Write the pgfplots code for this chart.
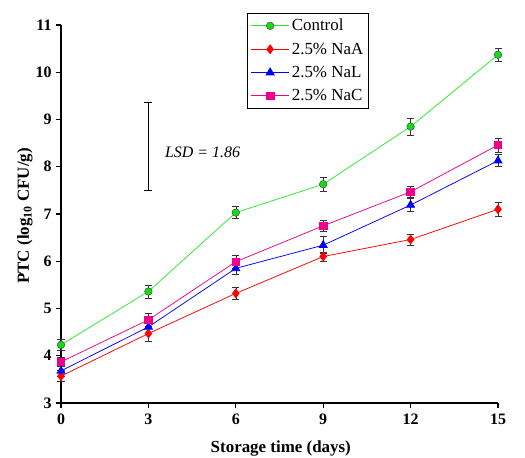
\documentclass[border=0pt]{standalone}
\usepackage{pgfplots}
\pgfplotsset{compat=1.18}
\usepackage{fontspec}
\setmainfont{Liberation Serif}
\definecolor{cgreen}{RGB}{40,235,40}
\definecolor{cgreenfill}{RGB}{20,220,20}
\begin{document}
\begin{tikzpicture}
\begin{axis}[
  scale only axis,
  width=437bp, height=378bp,
  xmin=0, xmax=15, ymin=3, ymax=11,
  xtick={0,3,6,9,12,15}, ytick={3,4,...,11},
  axis x line*=bottom, axis y line*=left,
  axis line style={line width=1.4pt},
  tick align=outside, major tick length=5bp,
  tick style={line width=1.2pt, black},
  /pgf/number format/assume math mode=true,
  ticklabel style={font=\bfseries\fontsize{16}{16}\selectfont},
  xticklabel style={yshift=-2bp},
  yticklabel style={xshift=-1bp},
  xlabel={Storage time (days)},
  ylabel={PTC (log\textsubscript{10} CFU/g)},
  x label style={at={(axis description cs:0.503,0)}, anchor=center, yshift=-45bp, font=\bfseries\fontsize{17}{17}\selectfont},
  y label style={at={(axis description cs:-0.0824,0.495)}, anchor=center, font=\bfseries\fontsize{17}{17}\selectfont},
  legend style={at={(0.426,1.032)}, anchor=north west, draw=black, line width=0.6pt,
    font=\fontsize{17}{17}\selectfont, row sep=6.5bp, inner xsep=3bp, inner ysep=4bp, fill=white},
  legend cell align=left,
  legend image code/.code={\draw[mark repeat=2,mark phase=2] plot coordinates {(0cm,0cm) (0.68cm,0cm) (1.36cm,0cm)};},
  error bars/error bar style={black!80, line width=0.6pt},
  error bars/error mark options={rotate=90, mark size=3.5bp, black!80, line width=0.6pt},
  clip=false,
]
\addlegendimage{draw=cgreen, line width=0.8pt, mark=*, mark size=3.8bp, mark options={fill=cgreenfill, draw=black!70, line width=0.5pt}}
\addlegendentry{Control}
\addlegendimage{draw=red, line width=0.8pt, mark=diamond*, mark size=4.4bp, mark options={fill=red, draw=red}}
\addlegendentry{2.5\% NaA}
\addlegendimage{draw=blue, line width=0.8pt, mark=triangle*, mark size=4.6bp, mark options={fill=blue, draw=blue}}
\addlegendentry{2.5\% NaL}
\addlegendimage{draw=magenta, line width=0.8pt, mark=square*, mark size=3.8bp, mark options={fill=magenta, draw=magenta}}
\addlegendentry{2.5\% NaC}
\addplot[forget plot, color=cgreen, line width=0.75pt, mark=*, mark size=3.8bp, mark options={fill=cgreenfill, draw=black!70, line width=0.5pt},
  error bars/.cd, y dir=both, y explicit]
  coordinates {(0,4.23) +- (0,0.12) (3,5.36) +- (0,0.14) (6,7.03) +- (0,0.13) (9,7.63) +- (0,0.15) (12,8.85) +- (0,0.18) (15,10.37) +- (0,0.13)};
\addplot[forget plot, color=red, line width=0.75pt, mark=diamond*, mark size=4.4bp, mark options={fill=red, draw=red},
  error bars/.cd, y dir=both, y explicit]
  coordinates {(0,3.57) +- (0,0.12) (3,4.47) +- (0,0.16) (6,5.32) +- (0,0.12) (9,6.10) +- (0,0.10) (12,6.46) +- (0,0.12) (15,7.10) +- (0,0.15)};
\addplot[forget plot, color=blue, line width=0.75pt, mark=triangle*, mark size=4.6bp, mark options={fill=blue, draw=blue},
  error bars/.cd, y dir=both, y explicit]
  coordinates {(0,3.68) +- (0,0.12) (3,4.61) +- (0,0.13) (6,5.85) +- (0,0.12) (9,6.34) +- (0,0.18) (12,7.19) +- (0,0.14) (15,8.13) +- (0,0.13)};
\addplot[forget plot, color=magenta, line width=0.75pt, mark=square*, mark size=3.8bp, mark options={fill=magenta, draw=magenta},
  error bars/.cd, y dir=both, y explicit]
  coordinates {(0,3.87) +- (0,0.1) (3,4.76) +- (0,0.14) (6,5.99) +- (0,0.14) (9,6.75) +- (0,0.12) (12,7.47) +- (0,0.12) (15,8.46) +- (0,0.15)};
\draw[black, line width=1.3pt] (axis cs:3,7.50) -- (axis cs:3,9.36);
\draw[black, line width=1.3pt] ([xshift=-4bp]axis cs:3,7.50) -- ([xshift=4bp]axis cs:3,7.50);
\draw[black, line width=1.3pt] ([xshift=-4bp]axis cs:3,9.36) -- ([xshift=4bp]axis cs:3,9.36);
\node[anchor=west, font=\itshape\fontsize{16}{16}\selectfont] at (axis cs:3.45,8.3) {LSD = 1.86};
\coordinate (O) at (axis cs:0,3);
\end{axis}
\pgfresetboundingbox
\path ([shift={(-61bp,-55bp)}]O) rectangle ([shift={(464bp,403bp)}]O);
\end{tikzpicture}
\end{document}
